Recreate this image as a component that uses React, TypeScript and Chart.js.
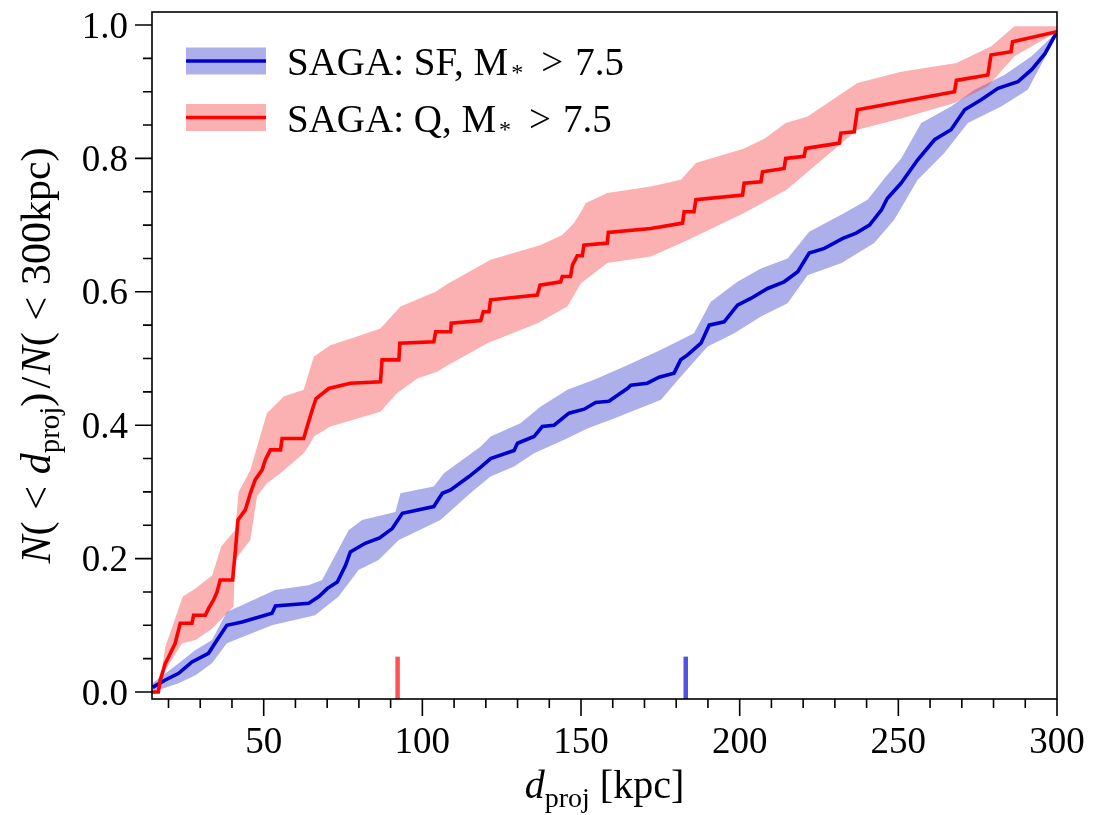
import React, { useEffect, useRef } from 'react';
import { Chart, registerables } from 'chart.js';

Chart.register(...registerables);

// ---------------- data ----------------
const X_MIN = 14.8;
const X_MAX = 300;
const Y_MIN = -0.0105;
const Y_MAX = 1.0195;

const xTickLabels = [50, 100, 150, 200, 250, 300];
const yTickLabels = [0.0, 0.2, 0.4, 0.6, 0.8, 1.0];

// star-forming satellites: cumulative fraction
const sfDist = [15.0, 19.0, 23.2, 27.4, 32.6, 35.3, 38.4, 43.2, 52.6, 53.7, 64.2, 67.4, 70.0, 73.2, 75.8, 77.3, 82.0, 86.5, 90.5, 93.7, 103.6, 106.3, 108.9, 114.7, 118.4, 121.5, 128.9, 130.0, 135.2, 137.8, 141.5, 146.2, 151.0, 154.6, 158.8, 161.5, 164.6, 165.7, 170.9, 174.6, 179.3, 181.4, 183.5, 187.8, 190.4, 195.1, 199.3, 203.5, 208.8, 214.0, 218.3, 221.9, 226.7, 232.5, 236.7, 240.9, 244.7, 246.5, 250.9, 256.1, 261.4, 266.6, 270.9, 276.1, 281.4, 287.7, 292.0, 296.2, 300.0];
const sfFrac = [0.007, 0.018, 0.028, 0.045, 0.058, 0.078, 0.100, 0.105, 0.118, 0.129, 0.133, 0.143, 0.155, 0.165, 0.190, 0.210, 0.223, 0.231, 0.245, 0.268, 0.278, 0.298, 0.303, 0.323, 0.337, 0.350, 0.362, 0.373, 0.383, 0.398, 0.400, 0.418, 0.424, 0.434, 0.436, 0.445, 0.455, 0.460, 0.463, 0.472, 0.478, 0.498, 0.505, 0.523, 0.550, 0.555, 0.580, 0.590, 0.605, 0.615, 0.630, 0.658, 0.665, 0.680, 0.688, 0.700, 0.723, 0.740, 0.763, 0.798, 0.828, 0.843, 0.873, 0.888, 0.905, 0.915, 0.933, 0.957, 0.990];

const sfUpperDist = [15.0, 23.2, 28.5, 33.7, 38.4, 53.6, 64.1, 68.4, 76.8, 81.0, 91.5, 93.1, 103.6, 106.8, 118.4, 121.5, 130.9, 137.3, 145.7, 154.1, 164.6, 175.2, 185.6, 190.9, 199.3, 206.7, 215.1, 221.9, 233.0, 240.3, 245.6, 250.9, 257.2, 266.6, 274.0, 283.4, 292.0, 300.0];
const sfUpper = [0.013, 0.043, 0.063, 0.078, 0.120, 0.153, 0.160, 0.168, 0.243, 0.258, 0.270, 0.298, 0.308, 0.328, 0.368, 0.383, 0.403, 0.428, 0.453, 0.468, 0.490, 0.513, 0.538, 0.585, 0.615, 0.635, 0.650, 0.690, 0.718, 0.738, 0.770, 0.800, 0.853, 0.878, 0.903, 0.925, 0.953, 0.990];

const sfLowerDist = [15.0, 23.2, 28.5, 33.7, 38.4, 52.6, 66.2, 73.6, 79.9, 86.2, 92.6, 105.7, 115.1, 121.5, 128.9, 135.2, 144.7, 152.0, 160.4, 170.9, 175.2, 181.5, 189.9, 198.3, 206.7, 215.1, 221.4, 232.1, 242.4, 248.7, 256.1, 264.5, 271.9, 282.4, 290.8, 300.0];
const sfLower = [0.000, 0.013, 0.025, 0.043, 0.073, 0.100, 0.115, 0.143, 0.183, 0.198, 0.228, 0.258, 0.298, 0.323, 0.338, 0.358, 0.378, 0.395, 0.410, 0.430, 0.438, 0.473, 0.518, 0.538, 0.563, 0.583, 0.625, 0.643, 0.673, 0.708, 0.768, 0.808, 0.853, 0.878, 0.903, 0.985];

// quiescent satellites: cumulative fraction
const qDist = [14.8, 16.8, 17.4, 19.0, 20.6, 22.1, 23.7, 27.4, 27.9, 31.6, 32.6, 34.2, 35.3, 36.3, 40.2, 41.1, 41.9, 44.2, 45.8, 47.3, 49.5, 50.5, 52.1, 55.3, 55.8, 62.6, 63.7, 65.3, 66.5, 70.5, 77.3, 86.8, 87.3, 92.6, 92.9, 103.6, 104.2, 108.9, 109.1, 118.4, 119.2, 121.0, 121.5, 136.2, 137.1, 143.6, 144.1, 146.7, 147.3, 148.8, 150.4, 150.9, 158.3, 158.6, 172.0, 182.0, 182.5, 185.6, 186.2, 200.9, 201.4, 206.7, 207.2, 214.0, 214.5, 220.3, 220.8, 231.4, 231.9, 236.1, 237.1, 267.7, 268.3, 278.2, 279.2, 285.5, 286.0, 300.0];
const qFrac = [0.000, 0.000, 0.018, 0.043, 0.058, 0.073, 0.103, 0.103, 0.115, 0.115, 0.125, 0.138, 0.150, 0.168, 0.168, 0.213, 0.258, 0.273, 0.298, 0.318, 0.333, 0.348, 0.363, 0.363, 0.380, 0.380, 0.398, 0.423, 0.440, 0.455, 0.463, 0.465, 0.498, 0.498, 0.523, 0.525, 0.540, 0.540, 0.553, 0.557, 0.570, 0.570, 0.588, 0.595, 0.610, 0.615, 0.623, 0.623, 0.640, 0.654, 0.654, 0.670, 0.673, 0.689, 0.695, 0.703, 0.720, 0.720, 0.738, 0.745, 0.763, 0.765, 0.780, 0.785, 0.800, 0.803, 0.815, 0.823, 0.838, 0.840, 0.873, 0.900, 0.917, 0.925, 0.955, 0.960, 0.975, 0.990];

const qUpperDist = [17.0, 19.0, 24.5, 28.5, 33.8, 36.6, 41.0, 42.1, 45.8, 51.0, 54.2, 56.3, 62.6, 65.8, 71.0, 79.4, 86.8, 93.1, 104.2, 108.0, 121.5, 137.3, 144.1, 147.8, 150.0, 151.5, 158.3, 172.0, 181.5, 186.2, 201.4, 207.9, 214.5, 221.4, 237.1, 250.9, 268.3, 279.3, 286.6, 300.0];
const qUpper = [0.005, 0.068, 0.143, 0.155, 0.175, 0.218, 0.243, 0.300, 0.333, 0.418, 0.433, 0.443, 0.453, 0.503, 0.520, 0.533, 0.545, 0.578, 0.600, 0.612, 0.648, 0.670, 0.685, 0.703, 0.720, 0.733, 0.748, 0.758, 0.768, 0.793, 0.815, 0.830, 0.853, 0.863, 0.913, 0.930, 0.943, 0.968, 0.998, 0.998];

const qLowerDist = [17.0, 19.0, 24.3, 28.5, 33.7, 37.4, 40.5, 41.0, 44.2, 45.8, 47.9, 51.0, 55.3, 62.6, 64.7, 65.8, 71.0, 86.8, 92.0, 98.4, 104.7, 108.0, 120.5, 136.3, 145.7, 150.0, 158.3, 172.0, 182.5, 201.4, 214.8, 237.1, 250.9, 267.7, 278.2, 286.6, 300.0];
const qLower = [0.000, 0.033, 0.073, 0.078, 0.095, 0.113, 0.128, 0.198, 0.218, 0.228, 0.293, 0.313, 0.328, 0.358, 0.373, 0.383, 0.398, 0.420, 0.448, 0.470, 0.480, 0.490, 0.523, 0.553, 0.578, 0.613, 0.643, 0.653, 0.675, 0.718, 0.753, 0.843, 0.860, 0.883, 0.908, 0.953, 0.990];

// median distances (short markers on the bottom axis)
const medianDist = [92.2, 183.0];
const medianMarkTop = 0.053;

// legend texts
const legendPrefix = ['SAGA: SF, M', 'SAGA: Q, M'];
const legendSub = '*';
const legendSuffix = ['>', '7.5'];

// ---------------- styling ----------------
const FONT = '"Liberation Serif", "Times New Roman", Times, serif';
const BLUE = '#0000cd';
const RED = '#ff0000';
const BLUE_BAND = 'rgba(50,55,205,0.4)';
const RED_BAND = 'rgba(245,60,60,0.4)';
const BLUE_MARK = 'rgba(40,40,220,0.8)';
const RED_MARK = 'rgba(255,40,40,0.8)';

const pts = (xs: number[], ys: number[]) => xs.map((x, i) => ({ x, y: ys[i] }));

type Run = { t: string; s: 'rm' | 'it' | 'sub' | 'gap' };

function runFont(r: Run, size: number) {
  if (r.s === 'it') return `italic ${size}px ${FONT}`;
  if (r.s === 'sub') return `${Math.round(size * 0.7)}px ${FONT}`;
  return `${size}px ${FONT}`;
}

function runsWidth(ctx: CanvasRenderingContext2D, runs: Run[], size: number) {
  let w = 0;
  for (const r of runs) {
    if (r.s === 'gap') { w += parseFloat(r.t) * size; continue; }
    ctx.font = runFont(r, size);
    w += ctx.measureText(r.t).width;
  }
  return w;
}

function drawRuns(ctx: CanvasRenderingContext2D, runs: Run[], x: number, y: number, size: number) {
  let cx = x;
  ctx.textBaseline = 'alphabetic';
  ctx.textAlign = 'left';
  for (const r of runs) {
    if (r.s === 'gap') { cx += parseFloat(r.t) * size; continue; }
    ctx.font = runFont(r, size);
    const dy = r.s === 'sub' ? size * 0.22 : 0;
    ctx.fillText(r.t, cx, y + dy);
    cx += ctx.measureText(r.t).width;
  }
}

const yTitleRuns: Run[] = [
  { t: 'N', s: 'it' }, { t: '(', s: 'rm' }, { t: '0.28', s: 'gap' }, { t: '<', s: 'rm' }, { t: '0.28', s: 'gap' },
  { t: 'd', s: 'it' }, { t: 'proj', s: 'sub' }, { t: ')', s: 'rm' }, { t: '0.1', s: 'gap' }, { t: '/', s: 'rm' }, { t: '0.06', s: 'gap' },
  { t: 'N', s: 'it' }, { t: '(', s: 'rm' }, { t: '0.28', s: 'gap' }, { t: '<', s: 'rm' }, { t: '0.28', s: 'gap' },
  { t: '300', s: 'rm' }, { t: 'kpc', s: 'rm' }, { t: ')', s: 'rm' },
];
const xTitleRuns: Run[] = [
  { t: 'd', s: 'it' }, { t: 'proj', s: 'sub' }, { t: ' [kpc]', s: 'rm' },
];

const decor = {
  id: 'decor',
  beforeDraw(chart: any) {
    const ctx = chart.ctx as CanvasRenderingContext2D;
    ctx.save();
    ctx.fillStyle = '#ffffff';
    ctx.fillRect(0, 0, chart.width, chart.height);
    ctx.restore();
  },
  afterDraw(chart: any) {
    const ctx = chart.ctx as CanvasRenderingContext2D;
    const { left, right, top, bottom } = chart.chartArea;
    const xs = chart.scales.x;
    const ys = chart.scales.y;
    ctx.save();
    ctx.strokeStyle = '#000';
    ctx.fillStyle = '#000';
    ctx.lineWidth = 1.6;
    ctx.strokeRect(left, top, right - left, bottom - top);

    // x ticks
    ctx.beginPath();
    for (let v = 20; v <= 300; v += 10) {
      const px = xs.getPixelForValue(v);
      const len = v % 50 === 0 ? 17 : 9;
      ctx.moveTo(px, bottom);
      ctx.lineTo(px, bottom + len);
    }
    // y ticks
    for (let k = 0; k <= 20; k++) {
      const v = k * 0.05;
      const py = ys.getPixelForValue(v);
      const len = k % 4 === 0 ? 17 : 9;
      ctx.moveTo(left, py);
      ctx.lineTo(left - len, py);
    }
    ctx.stroke();

    const TICK = 37;
    ctx.font = `${TICK}px ${FONT}`;
    ctx.textBaseline = 'alphabetic';
    ctx.textAlign = 'center';
    for (const v of xTickLabels) {
      ctx.fillText(String(v), xs.getPixelForValue(v), bottom + 54);
    }
    ctx.textAlign = 'right';
    for (const v of yTickLabels) {
      ctx.fillText(v.toFixed(1), left - 24, ys.getPixelForValue(v) + TICK * 0.34);
    }

    // axis titles
    const TS = 40;
    const xw = runsWidth(ctx, xTitleRuns, TS);
    drawRuns(ctx, xTitleRuns, (left + right) / 2 - xw / 2, 798, TS);
    const YS = 42;
    const yw = runsWidth(ctx, yTitleRuns, YS);
    ctx.save();
    ctx.translate(50, (top + bottom) / 2);
    ctx.rotate(-Math.PI / 2);
    drawRuns(ctx, yTitleRuns, -yw / 2, 0, YS);
    ctx.restore();

    // legend
    const LS = 39;
    const rows = [
      { cy: 61, line: BLUE, band: BLUE_BAND },
      { cy: 117.5, line: RED, band: RED_BAND },
    ];
    rows.forEach((r, i) => {
      ctx.fillStyle = r.band;
      ctx.fillRect(186, r.cy - 13.5, 80, 27);
      ctx.strokeStyle = r.line;
      ctx.lineWidth = 3.6;
      ctx.beginPath();
      ctx.moveTo(186, r.cy);
      ctx.lineTo(266, r.cy);
      ctx.stroke();
      ctx.fillStyle = '#000';
      ctx.textAlign = 'left';
      ctx.textBaseline = 'alphabetic';
      const base = r.cy + 14;
      ctx.font = `${LS}px ${FONT}`;
      ctx.fillText(legendPrefix[i], 287, base);
      let x = 287 + ctx.measureText(legendPrefix[i]).width + 3;
      ctx.font = `${Math.round(LS * 0.62)}px ${FONT}`;
      ctx.fillText(legendSub, x, base + 5);
      x += ctx.measureText(legendSub).width + 18;
      ctx.font = `${LS}px ${FONT}`;
      ctx.fillText(legendSuffix[0], x, base);
      x += ctx.measureText(legendSuffix[0]).width + 12;
      ctx.fillText(legendSuffix[1], x, base);
    });
    ctx.restore();
  },
};

export default function App() {
  const ref = useRef<HTMLCanvasElement>(null);
  useEffect(() => {
    const canvas = ref.current;
    if (!canvas) return;
    const band = (data: any, color: string, fill: any, order: number) => ({
      data, borderWidth: 0, borderColor: 'rgba(0,0,0,0)', backgroundColor: color, fill, pointRadius: 0, order, tension: 0,
    });
    const chart = new Chart(canvas, {
      type: 'line',
      data: {
        datasets: [
          band(pts(sfUpperDist, sfUpper), BLUE_BAND, '+1', 6) as any,
          band(pts(sfLowerDist, sfLower), BLUE_BAND, false, 6) as any,
          band(pts(qUpperDist, qUpper), RED_BAND, '+1', 5) as any,
          band(pts(qLowerDist, qLower), RED_BAND, false, 5) as any,
          { data: pts(sfDist, sfFrac), borderColor: BLUE, borderWidth: 3.6, fill: false, pointRadius: 0, order: 2, tension: 0, borderJoinStyle: 'miter' } as any,
          { data: pts(qDist, qFrac), borderColor: RED, borderWidth: 3.6, fill: false, pointRadius: 0, order: 1, tension: 0, borderJoinStyle: 'miter' } as any,
          { data: [{ x: medianDist[0], y: Y_MIN }, { x: medianDist[0], y: medianMarkTop }], borderColor: RED_MARK, borderWidth: 4.5, borderCapStyle: 'butt', fill: false, pointRadius: 0, order: 3 } as any,
          { data: [{ x: medianDist[1], y: Y_MIN }, { x: medianDist[1], y: medianMarkTop }], borderColor: BLUE_MARK, borderWidth: 4.5, borderCapStyle: 'butt', fill: false, pointRadius: 0, order: 3 } as any,
        ],
      },
      options: {
        responsive: false,
        animation: false,
        devicePixelRatio: 1,
        layout: { padding: { left: 0, right: 37, top: 12, bottom: 0 } },
        plugins: { legend: { display: false }, tooltip: { enabled: false } },
        scales: {
          x: {
            type: 'linear', min: X_MIN, max: X_MAX, bounds: 'data',
            grid: { display: false, drawTicks: false }, border: { display: false }, ticks: { display: false },
            afterFit: (s: any) => { s.height = 116; s.paddingLeft = 0; s.paddingRight = 0; },
          },
          y: {
            type: 'linear', min: Y_MIN, max: Y_MAX, bounds: 'data',
            grid: { display: false, drawTicks: false }, border: { display: false }, ticks: { display: false },
            afterFit: (s: any) => { s.width = 152; s.paddingTop = 0; s.paddingBottom = 0; },
          },
        },
      } as any,
      plugins: [decor],
    });
    return () => chart.destroy();
  }, []);
  return (
    <div style={{ position: 'fixed', left: 0, top: 0, width: 1094, height: 815, background: '#fff' }}>
      <canvas ref={ref} width={1094} height={815} style={{ display: 'block' }} />
    </div>
  );
}
